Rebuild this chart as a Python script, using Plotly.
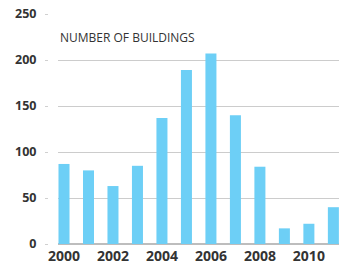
import plotly.graph_objects as go

years = [2000, 2001, 2002, 2003, 2004, 2005, 2006, 2007, 2008, 2009, 2010, 2011]
buildings = [87, 80, 63, 85, 137, 189, 207, 140, 84, 17, 22, 40]
x_tick_vals = [2000, 2002, 2004, 2006, 2008, 2010]
x_tick_text = ["2000", "2002", "2004", "2006", "2008", "2010"]
y_tick_vals = [0, 50, 100, 150, 200, 250]
y_tick_text = ["0", "50", "100", "150", "200", "250"]
annotation_text = "NUMBER OF BUILDINGS"

W, H = 339, 266
left_px = 58
axis_px = 48
top_px, bottom_px = 14, 22

fig = go.Figure()
fig.add_trace(go.Bar(
    x=years, y=buildings, marker=dict(color="#6dcff6", line=dict(width=0)),
    width=0.45, hoverinfo="skip"
))
fig.add_trace(go.Scatter(x=[2000], y=[0], yaxis="y2", mode="markers",
                         marker=dict(opacity=0), hoverinfo="skip", showlegend=False))

fig.update_layout(
    width=W, height=H,
    margin=dict(l=0, r=0, t=top_px, b=bottom_px, pad=0),
    paper_bgcolor="white", plot_bgcolor="white",
    showlegend=False,
    font=dict(family="Open Sans", color="#333333"),
    xaxis=dict(
        domain=[left_px / W, 1],
        range=[1999.755, 2011.23],
        tickvals=x_tick_vals, ticktext=x_tick_text,
        tickfont=dict(size=14, weight=700, color="#333333"),
        showgrid=False, zeroline=False, showline=False, ticks="",
        ticklabelstandoff=2, automargin=False,
    ),
    yaxis=dict(
        range=[0, 250], tickvals=y_tick_vals,
        showticklabels=False, showgrid=True, gridcolor="#cccccc", gridwidth=1,
        zeroline=True, zerolinecolor="#bdbdbd", zerolinewidth=1.5,
        ticks="", automargin=False,
    ),
    yaxis2=dict(
        overlaying="y", anchor="free", position=axis_px / W, side="left",
        range=[0, 250], tickvals=y_tick_vals, ticktext=y_tick_text,
        tickfont=dict(size=12.5, weight=700, color="#333333"),
        ticks="outside", ticklen=3, tickcolor="#d0d0d0", tickwidth=1,
        showgrid=False, zeroline=False, showline=False,
        ticklabelstandoff=6, automargin=False,
    ),
)

fig.add_annotation(
    text=annotation_text, xref="paper", yref="paper",
    x=left_px / W, y=(H - bottom_px - 38) / (H - top_px - bottom_px),
    xanchor="left", yanchor="middle",
    showarrow=False, font=dict(size=12, color="#333333", family="Open Sans"),
)

fig.write_html("out.html", config={"displayModeBar": False},
               post_script="document.body.style.margin='0';")
